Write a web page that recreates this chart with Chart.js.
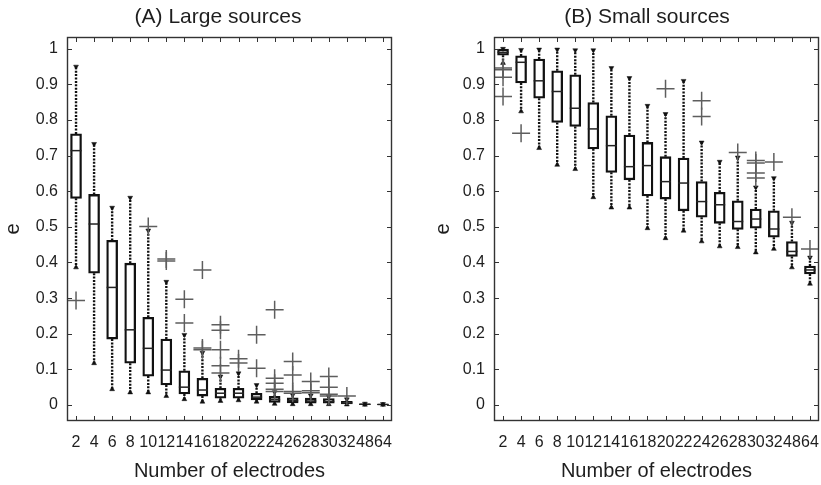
<!DOCTYPE html>
<html>
<head>
<meta charset="utf-8">
<script src="https://cdn.jsdelivr.net/npm/chart.js@4.4.1/dist/chart.umd.min.js"></script>
<style>
  html, body { margin: 0; padding: 0; background: #fff; width: 821px; height: 485px; overflow: hidden; }
  .panel { position: absolute; top: 0; }
  #chartA { left: 0; }
  #chartB { left: 431px; }
</style>
</head>
<body>
<canvas id="chartA" class="panel" width="436" height="485"></canvas>
<canvas id="chartB" class="panel" width="432" height="485"></canvas>
<script>
// categories and ticks
const electrodes = ['2', '4', '6', '8', '10', '12', '14', '16', '18', '20', '22', '24', '26', '28', '30', '32', '48', '64'];
const yTicks = [0, 0.1, 0.2, 0.3, 0.4, 0.5, 0.6, 0.7, 0.8, 0.9, 1];

// (A) large sources
const largeLow = [0.386, 0.117, 0.044, 0.035, 0.035, 0.025, 0.016, 0.009, 0.011, 0.013, 0.009, 0.003, 0.002, 0.002, 0.002, 0.001, 0.0005, 0.0003];
const largeQ1 = [0.58, 0.37, 0.185, 0.117, 0.081, 0.056, 0.031, 0.025, 0.019, 0.019, 0.014, 0.007, 0.006, 0.005, 0.005, 0.003, 0.001, 0.0008];
const largeMed = [0.714, 0.508, 0.33, 0.211, 0.159, 0.098, 0.05, 0.042, 0.033, 0.033, 0.022, 0.015, 0.012, 0.011, 0.01, 0.006, 0.002, 0.0015];
const largeQ3 = [0.761, 0.591, 0.462, 0.398, 0.246, 0.185, 0.096, 0.075, 0.047, 0.047, 0.033, 0.024, 0.02, 0.019, 0.018, 0.01, 0.003, 0.002];
const largeHigh = [0.95, 0.733, 0.554, 0.582, 0.49, 0.346, 0.197, 0.147, 0.08, 0.089, 0.056, 0.036, 0.028, 0.027, 0.023, 0.016, 0.004, 0.003];
const largeOut = [[0.293], [], [], [], [0.501], [0.41, 0.404], [0.297, 0.23], [0.379, 0.16, 0.155],
  [0.225, 0.21, 0.155, 0.11, 0.09], [0.13, 0.118], [0.197, 0.103], [0.267, 0.075, 0.061, 0.044, 0.038],
  [0.122, 0.084, 0.038, 0.033], [0.066, 0.04, 0.034], [0.08, 0.05, 0.03, 0.025], [0.025], [], []];

// (B) small sources
const smallLow = [0.96, 0.824, 0.721, 0.674, 0.662, 0.583, 0.554, 0.554, 0.496, 0.468, 0.489, 0.459, 0.445, 0.443, 0.428, 0.438, 0.386, 0.34];
const smallQ1 = [0.982, 0.904, 0.861, 0.793, 0.782, 0.719, 0.653, 0.632, 0.587, 0.578, 0.545, 0.527, 0.51, 0.493, 0.496, 0.471, 0.417, 0.368];
const smallMed = [0.99, 0.962, 0.91, 0.88, 0.833, 0.775, 0.728, 0.669, 0.672, 0.627, 0.623, 0.571, 0.562, 0.515, 0.522, 0.494, 0.431, 0.379];
const smallQ3 = [0.999, 0.98, 0.971, 0.938, 0.927, 0.849, 0.812, 0.758, 0.737, 0.697, 0.693, 0.627, 0.597, 0.573, 0.55, 0.545, 0.459, 0.39];
const smallHigh = [1.0, 0.997, 0.998, 0.998, 0.996, 0.996, 0.946, 0.918, 0.84, 0.817, 0.91, 0.737, 0.683, 0.695, 0.611, 0.637, 0.512, 0.414];
const smallOut = [[0.946, 0.941, 0.92, 0.866], [0.763], [], [], [], [], [], [], [], [0.888], [], [0.854, 0.81],
  [], [0.709], [0.686, 0.679, 0.651, 0.637], [0.682], [0.527], [0.438]];

const FONT = "'Liberation Sans', Arial, Helvetica, sans-serif";
const INK = '#1e1e1e';

// inward ticks on all four sides plus the frame
const frameTicks = {
  id: 'frameTicks',
  afterDraw(chart) {
    const {ctx, chartArea: a, scales: {x, y}} = chart;
    ctx.save();
    ctx.strokeStyle = '#333';
    ctx.lineWidth = 1;
    ctx.beginPath();
    x.ticks.forEach((t, i) => {
      const px = Math.round(x.getPixelForTick(i)) + 0.5;
      ctx.moveTo(px, a.bottom); ctx.lineTo(px, a.bottom - 5);
      ctx.moveTo(px, a.top); ctx.lineTo(px, a.top + 5);
    });
    y.ticks.forEach(t => {
      const py = Math.round(y.getPixelForValue(t.value)) + 0.5;
      ctx.moveTo(a.left, py); ctx.lineTo(a.left + 5, py);
      ctx.moveTo(a.right, py); ctx.lineTo(a.right - 5, py);
    });
    ctx.stroke();
    ctx.lineWidth = 1.4;
    ctx.strokeRect(Math.round(a.left) + 0.5, Math.round(a.top) + 0.5, Math.round(a.width) - 1, Math.round(a.height) - 1);
    ctx.restore();
  }
};

function makeChart(id, title, low, q1, med, q3, high, outl, yWidth, titlePad) {
  const whiskers = [];
  const outliers = [];
  electrodes.forEach((c, i) => {
    whiskers.push({x: c, y: q3[i]}, {x: c, y: high[i]}, {x: c, y: null});
    whiskers.push({x: c, y: q1[i]}, {x: c, y: low[i]}, {x: c, y: null});
    outl[i].forEach(v => outliers.push({x: c, y: v}));
  });

  new Chart(document.getElementById(id), {
    type: 'bar',
    data: {
      labels: electrodes,
      datasets: [
        {
          type: 'line', data: whiskers, borderColor: '#111', borderWidth: 2.4,
          borderDash: [2, 1.4], pointRadius: 0, spanGaps: false, order: 5
        },
        {
          type: 'bar', data: q1.map((v, i) => [v, q3[i]]), backgroundColor: '#fff',
          borderColor: '#111', borderWidth: 2.3, borderSkipped: false, barThickness: 11, order: 4
        },
        {
          type: 'line', data: med, showLine: false, pointStyle: 'line', pointRadius: 5.5,
          pointBorderColor: '#222', pointBorderWidth: 1.5, order: 3
        },
        {
          type: 'line', data: high, showLine: false, pointStyle: 'triangle', pointRotation: 180,
          pointRadius: 2.8, pointBackgroundColor: '#111', pointBorderColor: '#111', pointBorderWidth: 0.5, order: 2
        },
        {
          type: 'line', data: low, showLine: false, pointStyle: 'triangle',
          pointRadius: 2.8, pointBackgroundColor: '#111', pointBorderColor: '#111', pointBorderWidth: 0.5, order: 2
        },
        {
          type: 'line', data: outliers, showLine: false, pointStyle: 'cross', pointRadius: 9,
          pointBorderColor: '#5e5e5e', pointBorderWidth: 1.5, order: 1
        }
      ]
    },
    options: {
      responsive: false,
      animation: false,
      events: [],
      layout: { padding: 0 },
      plugins: {
        legend: { display: false },
        tooltip: { enabled: false },
        title: {
          display: true, text: title, color: INK,
          font: { family: FONT, size: 21, weight: 'normal' },
          padding: { top: 5, bottom: 6.8 }
        }
      },
      scales: {
        x: {
          offset: true,
          grid: { display: false, drawTicks: false },
          border: { display: false },
          ticks: {
            autoSkip: false, maxRotation: 0, minRotation: 0, padding: 12,
            color: INK, font: { family: FONT, size: 16 }
          },
          title: {
            display: true, text: 'Number of electrodes', color: INK,
            font: { family: FONT, size: 20 }, padding: { top: 0, bottom: 2 }
          },
          afterFit: s => { s.height = 64; }
        },
        y: {
          min: -0.045, max: 1.033,
          afterBuildTicks: s => { s.ticks = yTicks.map(v => ({value: v})); },
          grid: { display: false, drawTicks: false },
          border: { display: false },
          ticks: {
            padding: 9, color: INK, font: { family: FONT, size: 16 },
            callback: v => String(Math.round(v * 10) / 10)
          },
          title: {
            display: true, text: 'e', color: INK,
            font: { family: FONT, size: 20 }, padding: { top: titlePad, bottom: 0 }
          },
          afterFit: s => { s.width = yWidth; }
        },
        side: {
          position: 'right',
          display: true,
          grid: { display: false, drawTicks: false },
          border: { display: false },
          ticks: { display: false },
          afterFit: s => { s.width = 44; }
        }
      }
    },
    plugins: [frameTicks]
  });
}

makeChart('chartA', '(A) Large sources', largeLow, largeQ1, largeMed, largeQ3, largeHigh, largeOut, 67, 1);
makeChart('chartB', '(B) Small sources', smallLow, smallQ1, smallMed, smallQ3, smallHigh, smallOut, 63, 0);
</script>
</body>
</html>
